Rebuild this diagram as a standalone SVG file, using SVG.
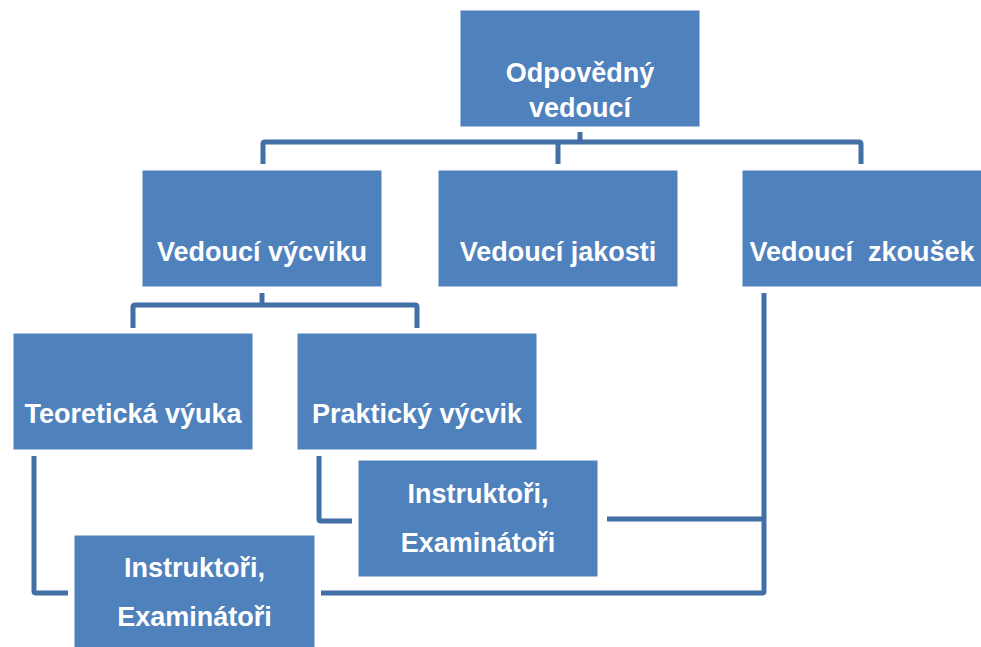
<svg xmlns="http://www.w3.org/2000/svg" width="981" height="647" viewBox="0 0 981 647">
<style>
.box{fill:#4F81BD;stroke:#ffffff;stroke-width:1}
.t{font-family:"Liberation Sans",Arial,sans-serif;font-weight:bold;font-size:27px;fill:#ffffff;text-anchor:middle}
.c{fill:none;stroke:#416FA6;stroke-width:5;stroke-linejoin:round;stroke-linecap:butt}
</style>
<rect width="981" height="647" fill="#ffffff"/>
<g id="connectors">
<path class="c" d="M580,132 V142"/>
<path class="c" d="M263,164 V144 Q263,142 265,142 H859 Q861,142 861,144 V164"/>
<path class="c" d="M558,142 V164"/>
<path class="c" d="M262,293 V305"/>
<path class="c" d="M133,328 V307 Q133,305 135,305 H415 Q417,305 417,307 V328"/>
<path class="c" d="M34,456 V591 Q34,593 36,593 H68"/>
<path class="c" d="M319,456 V519 Q319,521 321,521 H352"/>
<path class="c" d="M607,519 H764"/>
<path class="c" d="M764,293 V591 Q764,593 762,593 H321"/>
</g>
<g id="n-odpovedny">
<rect class="box" x="460" y="10" width="240" height="117"/>
<text class="t" x="580" y="82">Odpovědný</text>
<text class="t" x="580" y="117">vedoucí</text>
</g>
<g id="n-vycvik">
<rect class="box" x="142" y="170" width="240" height="117"/>
<text class="t" x="262" y="261">Vedoucí výcviku</text>
</g>
<g id="n-jakost">
<rect class="box" x="438" y="170" width="240" height="117"/>
<text class="t" x="558" y="261">Vedoucí jakosti</text>
</g>
<g id="n-zkousky">
<rect class="box" x="742" y="170" width="240" height="117"/>
<text class="t" x="862" y="261" xml:space="preserve">Vedoucí  zkoušek</text>
</g>
<g id="n-teorie">
<rect class="box" x="13" y="333" width="240" height="117"/>
<text class="t" x="133" y="423">Teoretická výuka</text>
</g>
<g id="n-praxe">
<rect class="box" x="297" y="333" width="240" height="117"/>
<text class="t" x="417" y="423">Praktický výcvik</text>
</g>
<g id="n-instr-right">
<rect class="box" x="358" y="460" width="240" height="117"/>
<text class="t" x="478" y="503">Instruktoři,</text>
<text class="t" x="478" y="552">Examinátoři</text>
</g>
<g id="n-instr-left">
<rect class="box" x="74" y="535" width="241" height="117"/>
<text class="t" x="194.5" y="577">Instruktoři,</text>
<text class="t" x="194.5" y="626">Examinátoři</text>
</g>
</svg>
